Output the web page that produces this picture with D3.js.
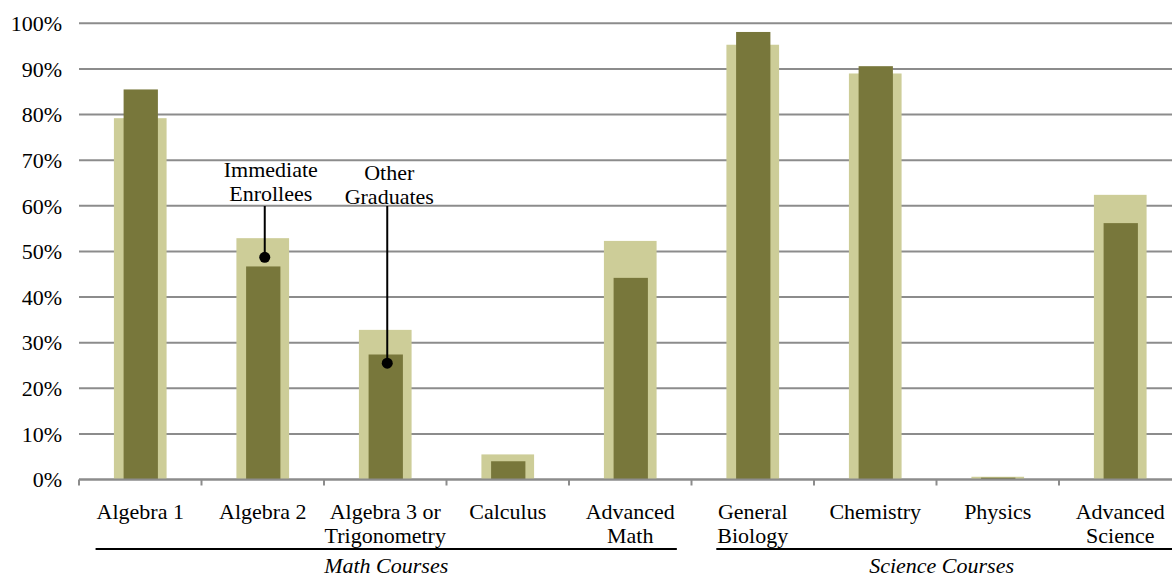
<!DOCTYPE html>
<html><head><meta charset="utf-8">
<script src="https://cdn.jsdelivr.net/npm/d3@7"></script>
<style>
html,body{margin:0;padding:0;background:#fff;overflow:hidden}
text{font-family:"Liberation Serif","Times New Roman",serif;fill:#000}
</style></head>
<body><svg id="c" width="1172" height="577"></svg>
<script>
const categories = ["Algebra 1","Algebra 2","Algebra 3 or|Trigonometry","Calculus","Advanced|Math","General|Biology","Chemistry","Physics","Advanced|Science"];
const immediateEnrollees = [0.792,0.529,0.328,0.055,0.523,0.953,0.890,0.006,0.624];
const otherGraduates     = [0.855,0.467,0.274,0.040,0.442,0.981,0.906,0.004,0.562];
const yTicks = [0,0.1,0.2,0.3,0.4,0.5,0.6,0.7,0.8,0.9,1.0];
const groups = [{name:"Math Courses", from:0, to:4},{name:"Science Courses", from:5, to:8}];
const annotations = [
  {lines:["Immediate","Enrollees"], cat:1, value:0.487},
  {lines:["Other","Graduates"], cat:2, value:0.255}
];

(function(){
const svg = d3.select("#c");
const plotLeft = 79, plotRight = 1181.5, plotTop = 23.3, plotBottom = 479.5;
const fs = 22;
const x = d3.scaleBand().domain(categories).range([plotLeft,plotRight]).paddingInner(0).paddingOuter(0);
const y = d3.scaleLinear().domain([0,1]).range([plotBottom,plotTop]);
const bw = x.bandwidth();
const lightC = "#cdcd98", darkC = "#78773b", gridC = "#8c8c8c";
const annoStyle = [{dx:6, y0:177},{dx:2, y0:180}];

svg.append("g").selectAll("line").data(yTicks).join("line")
  .attr("x1",plotLeft).attr("x2",1172).attr("y1",d=>y(d)).attr("y2",d=>y(d))
  .attr("stroke",gridC).attr("stroke-width",2);

const yAxis = d3.axisLeft(y).tickValues(yTicks).tickFormat(d3.format(".0%")).tickSize(0).tickPadding(0);
const ya = svg.append("g").attr("transform",`translate(${plotLeft-17},0)`).call(yAxis);
ya.select(".domain").remove();
ya.attr("font-family",null).attr("font-size",null);
ya.selectAll("text").attr("font-size",fs).attr("fill","#000").attr("dy","0.33em");

svg.append("g").selectAll("rect").data(categories).join("rect")
  .attr("x",(d)=>x(d)+bw/2-bw*0.215).attr("width",bw*0.43)
  .attr("y",(d,i)=>y(immediateEnrollees[i])).attr("height",(d,i)=>y(0)-y(immediateEnrollees[i]))
  .attr("fill",lightC);
svg.append("g").selectAll("rect").data(categories).join("rect")
  .attr("x",(d)=>x(d)+bw/2-bw*0.14+0.5).attr("width",bw*0.28)
  .attr("y",(d,i)=>y(otherGraduates[i])).attr("height",(d,i)=>y(0)-y(otherGraduates[i]))
  .attr("fill",darkC);

svg.append("line").attr("x1",plotLeft).attr("x2",1172).attr("y1",y(0)).attr("y2",y(0)).attr("stroke",gridC).attr("stroke-width",2);
svg.append("g").selectAll("line").data(d3.range(categories.length+1)).join("line")
  .attr("x1",i=>plotLeft+i*bw).attr("x2",i=>plotLeft+i*bw).attr("y1",y(0)).attr("y2",y(0)+6)
  .attr("stroke",gridC).attr("stroke-width",2);

const lab = svg.append("g").selectAll("text").data(categories).join("text")
  .attr("text-anchor","middle").attr("font-size",fs)
  .attr("x",d=>x(d)+bw/2).attr("y",519);
lab.each(function(d){
  const parts = d.split("|");
  d3.select(this).selectAll("tspan").data(parts).join("tspan")
    .attr("x",x(d)+bw/2).attr("dy",(p,j)=>j===0?0:24).text(p=>p);
});
const boxes = [];
lab.each(function(){ boxes.push(this.getBBox()); });

groups.forEach(g=>{
  const x1 = boxes[g.from].x - 1;
  const x2 = Math.min(1172, boxes[g.to].x + boxes[g.to].width + 2);
  const x2b = g.to===categories.length-1 ? 1172 : x2;
  svg.append("line").attr("x1",x1).attr("x2",x2b).attr("y1",549).attr("y2",549).attr("stroke","#000").attr("stroke-width",2);
  svg.append("text").attr("x",(x1+x2)/2).attr("y",573).attr("text-anchor","middle")
    .attr("font-size",fs).attr("font-style","italic").text(g.name);
});

annotations.forEach((a,k)=>{
  const st = annoStyle[k];
  const cx = x(categories[a.cat])+bw/2+2;
  const t = svg.append("text").attr("text-anchor","middle").attr("font-size",fs)
    .attr("x",cx+st.dx).attr("y",st.y0);
  a.lines.forEach((l,j)=>t.append("tspan").attr("x",cx+st.dx).attr("dy",j===0?0:24).text(l));
  svg.append("line").attr("x1",cx).attr("x2",cx).attr("y1",206).attr("y2",y(a.value))
    .attr("stroke","#000").attr("stroke-width",2);
  svg.append("circle").attr("cx",cx).attr("cy",y(a.value)).attr("r",5.5).attr("fill","#000");
});
})();
</script></body></html>
